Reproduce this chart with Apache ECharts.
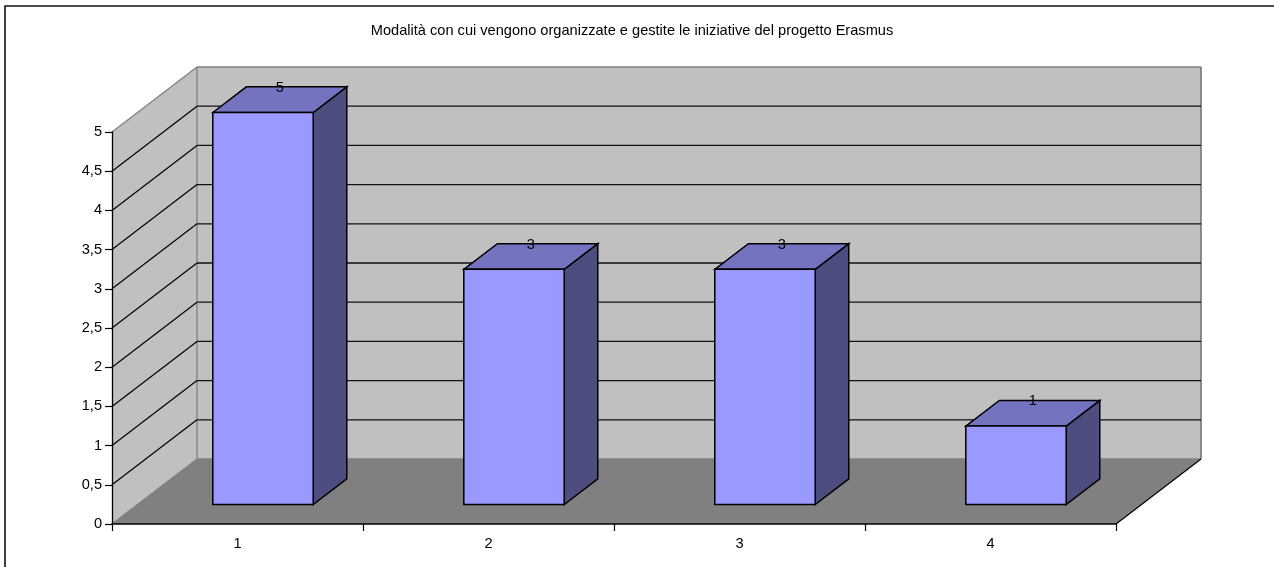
<!DOCTYPE html>
<html>
<head>
<meta charset="utf-8">
<style>html,body{margin:0;padding:0;background:#fff;overflow:hidden}#c{width:1274px;height:567px}</style>
<script src="https://cdn.jsdelivr.net/npm/echarts@6/dist/echarts.min.js"></script>
</head>
<body>
<div id="c"></div>
<script>
const titleText = 'Modalità con cui vengono organizzate e gestite le iniziative del progetto Erasmus';
const categories = ['1', '2', '3', '4'];
const values = [5, 3, 3, 1];
const yTicks = [0.5, 1, 1.5, 2, 2.5, 3, 3.5, 4, 4.5, 5];

// Oblique projection used by the 3D look
const DX = 85, DY = -65;          // full depth of the floor
const BAR_NEAR = 0.3, BAR_FAR = 0.695; // bar depth as a share of the floor depth
const BAR_SHARE = 0.4;
const FONT = '"Liberation Sans", Arial, sans-serif';
const FONT_SIZE = 14.6;

const shift = (p, k) => [p[0] + DX * k, p[1] + DY * k];
const poly = (points, fill, stroke, lineWidth) => ({
  type: 'polygon',
  shape: { points },
  style: { fill, stroke: stroke || 'none', lineWidth: lineWidth || 1 }
});
const line = (a, b, stroke, lineWidth) => ({
  type: 'line',
  shape: { x1: a[0], y1: a[1], x2: b[0], y2: b[1] },
  style: { stroke, lineWidth: lineWidth || 1 }
});

function renderWalls(params, api) {
  const cs = params.coordSys;
  const tl = [cs.x, cs.y], bl = [cs.x, cs.y + cs.height], br = [cs.x + cs.width, cs.y + cs.height];
  const tr = [cs.x + cs.width, cs.y];
  const grey = '#808080';
  return {
    type: 'group',
    children: [
      poly([bl, br, shift(br, 1), shift(bl, 1)], '#808080'),
      poly([tl, bl, shift(bl, 1), shift(tl, 1)], '#c0c0c0'),
      poly([shift(tl, 1), shift(tr, 1), shift(br, 1), shift(bl, 1)], '#c0c0c0'),
      line(tl, shift(tl, 1), grey, 1.3),
      line(bl, shift(bl, 1), grey, 1.3),
      line(shift(tl, 1), shift(tr, 1), grey, 1.3),
      line(shift(tl, 1), shift(bl, 1), grey, 1.3),
      line(shift(tr, 1), shift(br, 1), grey, 1.8),
      line(shift(bl, 1), shift(br, 1), grey, 1.3),
      line(br, shift(br, 1), '#000', 1.2)
    ]
  };
}

function renderGridLine(params, api) {
  const cs = params.coordSys;
  const y = api.coord([0, api.value(1)])[1];
  const a = [cs.x, y], b = shift(a, 1), c = [cs.x + cs.width + DX, y + DY];
  return {
    type: 'group',
    children: api.value(1) === 5 ? [] : [line(a, b, '#000', 1.2), line(b, c, '#111', 1.3)]
  };
}

function renderBar(params, api) {
  const idx = api.value(0), val = api.value(1);
  const w = api.size([1, 0])[0] * BAR_SHARE;
  const top = api.coord([idx, val]), base = api.coord([idx, 0]);
  const x0 = top[0] - w / 2, x1 = top[0] + w / 2;
  const n = k => p => shift(p, k);
  const near = n(BAR_NEAR), far = n(BAR_FAR);
  const ftl = near([x0, top[1]]), ftr = near([x1, top[1]]), fbl = near([x0, base[1]]), fbr = near([x1, base[1]]);
  const btl = far([x0, top[1]]), btr = far([x1, top[1]]), bbr = far([x1, base[1]]);
  const ink = '#000';
  return {
    type: 'group',
    children: [
      poly([ftr, btr, bbr, fbr], '#4d4d80', ink, 1.5),
      poly([ftl, btl, btr, ftr], '#7373bf', ink, 1.5),
      poly([ftl, ftr, fbr, fbl], '#9999ff', ink, 1.5),
      {
        type: 'text',
        style: {
          text: String(val),
          x: (ftl[0] + btr[0]) / 2,
          y: btl[1] + 1,
          align: 'center',
          verticalAlign: 'middle',
          font: FONT_SIZE + 'px ' + FONT,
          fill: '#000'
        }
      }
    ]
  };
}

const chart = echarts.init(document.getElementById('c'), null, { renderer: 'canvas' });
chart.setOption({
  animation: false,
  backgroundColor: '#fff',
  title: {
    text: titleText,
    left: 627,
    top: 18,
    textAlign: 'center',
    textStyle: { fontFamily: FONT, fontSize: FONT_SIZE, fontWeight: 'normal', color: '#000', lineHeight: 16 }
  },
  grid: { left: 112, right: 158, top: 132, bottom: 43, containLabel: false },
  xAxis: {
    type: 'category',
    data: categories,
    z: 5,
    axisLine: { lineStyle: { color: '#000', width: 1.5 } },
    axisTick: { show: true, alignWithLabel: false, length: 7, lineStyle: { color: '#000', width: 1.2 } },
    axisLabel: { color: '#000', fontFamily: FONT, fontSize: FONT_SIZE, margin: 12 },
    splitLine: { show: false }
  },
  yAxis: {
    type: 'value',
    min: 0,
    max: 5,
    interval: 0.5,
    z: 5,
    axisLine: { show: true, lineStyle: { color: '#000', width: 1.3 } },
    axisTick: { show: true, length: 7, lineStyle: { color: '#000', width: 1.2 } },
    axisLabel: {
      color: '#000', fontFamily: FONT, fontSize: FONT_SIZE, margin: 10,
      formatter: v => String(v).replace('.', ',')
    },
    splitLine: { show: false }
  },
  graphic: [{
    type: 'polyline',
    silent: true,
    shape: { points: [[5, 567], [5, 6], [1274, 6]] },
    style: { stroke: '#111', lineWidth: 1.6, fill: 'none' }
  }],
  series: [
    { type: 'custom', name: 'walls', coordinateSystem: 'cartesian2d', clip: false, silent: true, z: 1,
      data: [[0, 0]], encode: { x: 0, y: 1 }, renderItem: renderWalls },
    { type: 'custom', name: 'grid', coordinateSystem: 'cartesian2d', clip: false, silent: true, z: 2,
      data: yTicks.map(t => [0, t]), encode: { x: 0, y: 1 }, renderItem: renderGridLine },
    { type: 'custom', name: 'bars', coordinateSystem: 'cartesian2d', clip: false, silent: true, z: 3,
      data: values.map((v, i) => [i, v]), encode: { x: 0, y: 1 }, renderItem: renderBar }
  ]
});
</script>
</body>
</html>
